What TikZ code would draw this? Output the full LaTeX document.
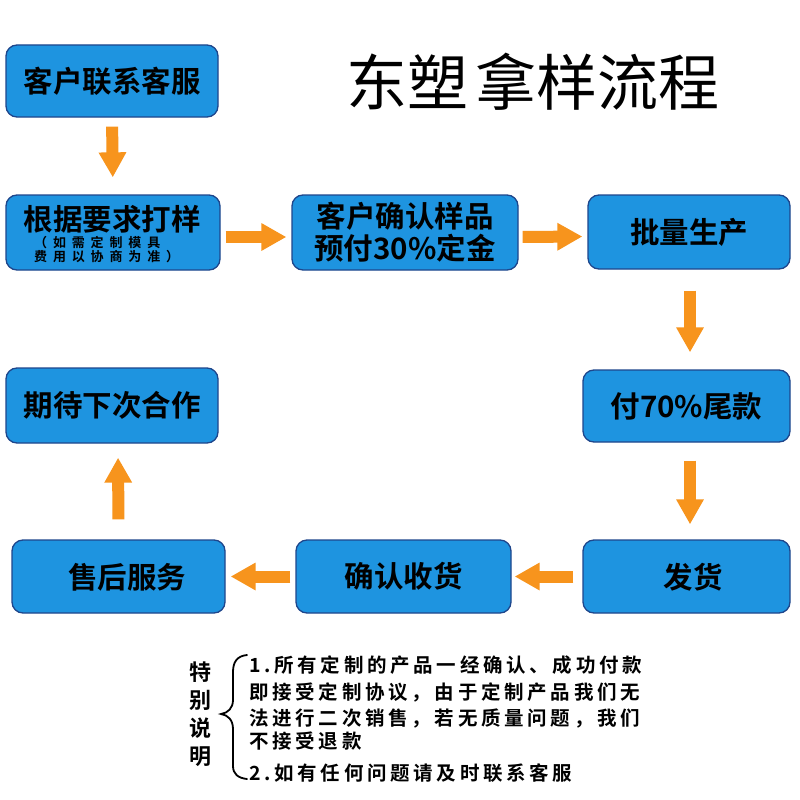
\documentclass[tikz,border=0pt]{standalone}
\usepackage{fontspec}
\usetikzlibrary{arrows.meta}
\newfontfamily\cjkbold{Noto Sans CJK SC Bold}
\newfontfamily\cjkreg{Noto Sans CJK SC}
\newfontfamily\cjknote[LetterSpace=19]{Noto Sans CJK SC Bold}
\newfontfamily\cjksmall[LetterSpace=45]{Noto Sans CJK SC Bold}
\definecolor{boxblue}{RGB}{30,148,224}
\definecolor{boxedge}{RGB}{30,70,140}
\definecolor{arroworange}{RGB}{247,148,29}
\tikzset{
  flowbox/.style={draw=boxedge, line width=1.3pt, fill=boxblue, rounded corners=11pt,
    inner sep=0pt, font=\cjkbold\fontsize{29.5}{33}\selectfont, text=black, align=center},
  boxtext/.style={inner sep=0pt, font=\cjkbold\fontsize{29.5}{33}\selectfont, text=black, align=center},
  smalltext/.style={inner sep=0pt, font=\cjksmall\fontsize{13}{14}\selectfont, text=black, align=left},
  blockarrow/.style={draw=arroworange, line width=12pt, -{Triangle[width=26pt,length=25pt]}, arroworange},
  notetext/.style={inner sep=0pt, anchor=west, font=\cjknote\fontsize{19.5}{22}\selectfont, text=black},
}
\begin{document}
\begin{tikzpicture}[x=1pt,y=-1pt]
\useasboundingbox (0,0) rectangle (800,800);
\fill[white] (0,0) rectangle (800,800);
% title
\node[inner sep=0pt, font=\cjkreg\fontsize{61}{64}\selectfont] (title) at (533,82) {东塑\hspace{8pt}拿样流程};
% boxes
\node[flowbox, minimum width=212pt, minimum height=72pt] (b1) at (112,81) {客户联系客服};
\node[flowbox, minimum width=214pt, minimum height=75pt] (b2) at (113,232.5) {};
\node[boxtext] (b2t) at (112,219) {根据要求打样};
\node[smalltext, anchor=west] (b2s) at (34,250) {（如需定制模具\\费用以协商为准）};
\node[flowbox, minimum width=226pt, minimum height=75pt] (b3) at (405,232.5) {客户确认样品\\[-1pt]预付30\%定金};
\node[flowbox, minimum width=202pt, minimum height=74pt] (b4) at (689,232) {批量生产};
\node[flowbox, minimum width=207pt, minimum height=72pt] (b5) at (686.5,406) {付70\%尾款};
\node[flowbox, minimum width=212pt, minimum height=75pt] (b6) at (112,405.5) {期待下次合作};
\node[flowbox, minimum width=213pt, minimum height=73pt] (b7) at (118.5,576.5) {};
\node[boxtext] (b7t) at (127,577) {售后服务};
\node[flowbox, minimum width=215pt, minimum height=73pt] (b8) at (403.5,576.5) {确认收货};
\node[flowbox, minimum width=207pt, minimum height=73pt] (b9) at (686.5,576.5) {};
\node[boxtext] (b9t) at (693,577) {发货};
% arrows
\draw[blockarrow, shorten <=9pt, shorten >=17pt] (b1.south) -- (b2.north);
\draw[blockarrow, shorten <=5pt, shorten >=5pt] ([yshift=-4.5pt]b2.east) -- ([yshift=-4.5pt]b3.west);
\draw[blockarrow, shorten <=4pt, shorten >=5pt] ([yshift=-4.5pt]b3.east) -- ([yshift=-4.5pt]b4.west);
\draw[blockarrow, shorten <=21pt, shorten >=17pt] ([xshift=1pt]b4.south) -- ([xshift=3.5pt]b5.north);
\draw[blockarrow, shorten <=18pt, shorten >=15pt] ([xshift=3.5pt]b5.south) -- ([xshift=3.5pt]b9.north);
\draw[blockarrow, shorten <=9pt, shorten >=3pt] (b9.west) -- (b8.east);
\draw[blockarrow, shorten <=5pt, shorten >=5pt] (b8.west) -- (b7.east);
\draw[blockarrow, shorten <=20pt, shorten >=14pt] (b7.north) -- ([xshift=6pt]b6.south);
% notes
\node[inner sep=0pt, font=\cjkbold\fontsize{22}{28}\selectfont, text=black, align=center] (side) at (200,714) {特\\别\\说\\明};
\draw[line width=1.8pt, black, line cap=round]
  (247,655) .. controls (237,656) and (233,662) .. (233,672) -- (233,700)
  .. controls (233,708) and (228,713) .. (221,714)
  .. controls (228,715) and (233,720) .. (233,729) -- (233,766)
  .. controls (233,774) and (238,778) .. (247,779);
\node[notetext] (n1) at (249,665) {1.所有定制的产品一经确认、成功付款};
\node[notetext] (n2) at (249,692) {即接受定制协议，由于定制产品我们无};
\node[notetext] (n3) at (249,718) {法进行二次销售，若无质量问题，我们};
\node[notetext] (n4) at (249,741) {不接受退款};
\node[notetext] (n5) at (249,773) {2.如有任何问题请及时联系客服};
\end{tikzpicture}
\end{document}
